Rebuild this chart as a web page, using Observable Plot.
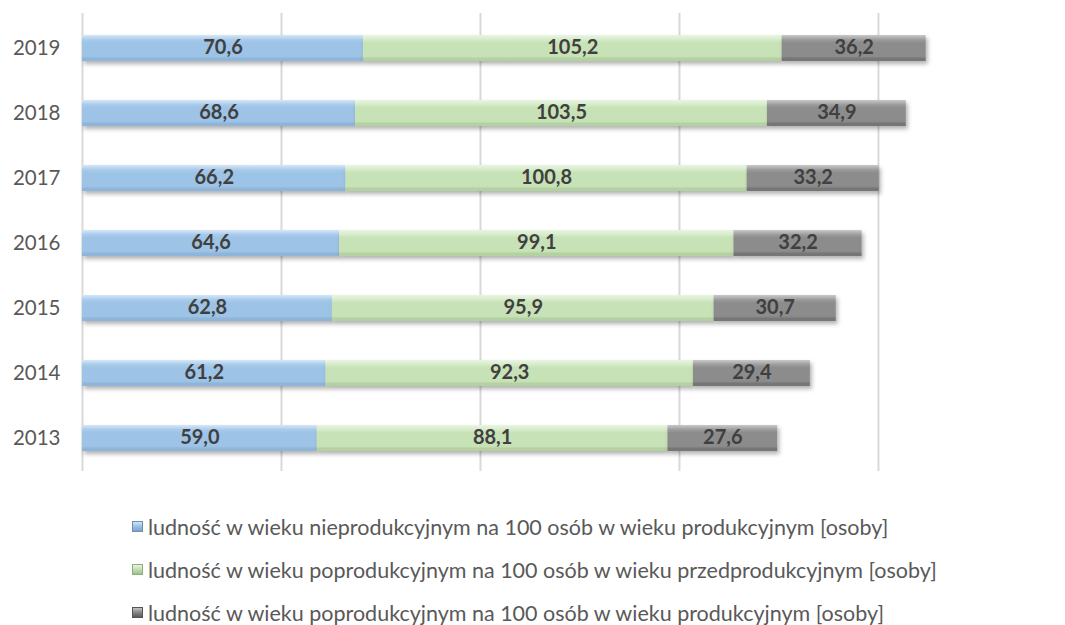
<!DOCTYPE html>
<html><head><meta charset="utf-8">
<script src="https://cdn.jsdelivr.net/npm/d3@7"></script>
<script src="https://cdn.jsdelivr.net/npm/@observablehq/plot@0.6"></script>
<style>
body{margin:0;background:#fff;font-family:Lato,sans-serif;}
#legend{padding-left:132px;margin-top:10px;}
.item{display:flex;align-items:center;height:43px;font-size:21.5px;color:#595959;}
.sw{width:11px;height:11px;margin-right:5px;box-sizing:border-box;}
</style></head><body>
<div id="chart"></div><div id="legend"></div>
<script>
const years = ["2013","2014","2015","2016","2017","2018","2019"];
const nieprodukcyjny = [59.0, 61.2, 62.8, 64.6, 66.2, 68.6, 70.6];
const poprodPrzed = [88.1, 92.3, 95.9, 99.1, 100.8, 103.5, 105.2];
const poprodProd = [27.6, 29.4, 30.7, 32.2, 33.2, 34.9, 36.2];
const seriesNames = [
  "ludność w wieku nieprodukcyjnym na 100 osób w wieku produkcyjnym [osoby]",
  "ludność w wieku poprodukcyjnym na 100 osób w wieku przedprodukcyjnym [osoby]",
  "ludność w wieku poprodukcyjnym na 100 osób w wieku produkcyjnym [osoby]"
];
const seriesValues = [nieprodukcyjny, poprodPrzed, poprodProd];
const gradIds = ["gBlue","gGreen","gGray"];
const swatch = ["linear-gradient(#d3e5f6,#9dc3e6 45%,#7fa3c8)","linear-gradient(#e8f4e0,#c5e0b4 45%,#9fbf8c)","linear-gradient(#c4c4c4,#8a8a8a 45%,#5a5a5a)"];
const xTicks = [0, 50, 100, 150, 200];

const table = [];
seriesNames.forEach((s, i) => years.forEach((y, j) => table.push({year: y, series: s, si: i, value: seriesValues[i][j]})));

const fmt = v => v.toFixed(1).replace(".", ",");

const svg = Plot.plot({
  width: 1065, height: 495,
  marginLeft: 82, marginRight: 0, marginTop: 13, marginBottom: 24,
  style: {fontFamily: "Lato, sans-serif", background: "transparent"},
  x: {domain: [0, 247], axis: null},
  y: {domain: years.slice().reverse(), padding: 0, label: null, tickSize: 0, tickPadding: 22},
  color: {type: "identity"},
  marks: [
    Plot.ruleX(xTicks, {stroke: "#d9d9d9", strokeWidth: 2, strokeOpacity: 1}),
    Plot.barX(table, Plot.stackX({
      y: "year", x: "value", z: "si", order: "si",
      fill: d => "url(#" + gradIds[d.si] + ")",
      insetTop: 20, insetBottom: 19
    })),
    Plot.text(table, Plot.stackX({
      y: "year", x: "value", z: "si", order: "si",
      text: d => fmt(d.value), fill: "#404040", fontWeight: "bold", fontSize: 20
    }))
  ]
});

const defs = d3.select(svg).insert("defs", ":first-child");
const gs = [["#d6e7f7","#a9cbec","#9dc3e6","#8fb5da"],["#e9f5e2","#d6ebc9","#c8e2b7","#b4d2a1"],["#c9c9c9","#9c9c9c","#8c8c8c","#767676"]];
gradIds.forEach((id, i) => {
  const g = defs.append("linearGradient").attr("id", id).attr("x1", 0).attr("x2", 0).attr("y1", 0).attr("y2", 1);
  const c = gs[i];
  [[0,c[0]],[0.18,c[1]],[0.3,c[2]],[0.82,c[2]],[0.9,c[3]],[1,c[3]]].forEach(([o,col]) =>
    g.append("stop").attr("offset", o).attr("stop-color", col));
});
const f = defs.append("filter").attr("id","sh").attr("x","-5%").attr("y","-30%").attr("width","115%").attr("height","190%");
f.append("feDropShadow").attr("dx",2).attr("dy",3).attr("stdDeviation",2).attr("flood-color","#000").attr("flood-opacity",0.3);
d3.select(svg).selectAll("g[aria-label='bar'] rect").attr("filter","url(#sh)");
d3.select(svg).selectAll("g[aria-label='y-axis tick label']").attr("font-size", 20.5).attr("fill", "#595959");
document.getElementById("chart").appendChild(svg);

const leg = d3.select("#legend");
seriesNames.forEach((s, i) => {
  const it = leg.append("div").attr("class","item");
  it.append("div").attr("class","sw").style("background", swatch[i]).style("border","1px solid " + ["#6d8fb3","#8fae7c","#555"][i]);
  it.append("span").text(s);
});
</script>
</body></html>
